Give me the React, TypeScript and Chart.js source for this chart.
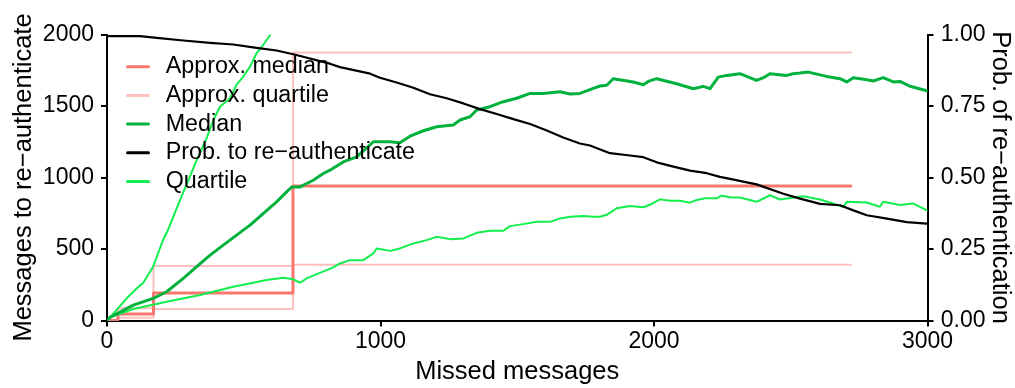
import React, { useEffect, useRef } from 'react';
import { Chart, registerables } from 'chart.js';

Chart.register(...registerables);

const FONT = '"Liberation Sans", Arial, Helvetica, sans-serif';

// Colours of the five series
const C_APPROX_MEDIAN = '#F8766D';
const C_APPROX_QUARTILE = '#FFC1BD';
const C_MEDIAN = '#00B23C';
const C_QUARTILE = '#12EE4C';
const C_PROB = '#000000';

// Piecewise-constant approximations: each value starts at its break and holds until the next one
const approxStepX = [0, 40, 170, 680, 2720];
const approxMedian = [0, 45, 192, 941, 941];
const approxQuartileLow = [0, 20, 80, 390, 390];
const approxQuartileHigh = [0, 85, 381, 1875, 1875];

// Empirical median of messages needed to re-authenticate
const medianX = [0, 11, 96, 169, 218, 279, 328, 377, 425, 474, 498, 523, 572, 620, 657, 675, 706, 754, 791, 815, 864, 913, 974, 1035, 1071, 1108, 1157, 1205, 1266, 1291, 1327, 1352, 1400, 1449, 1498, 1547, 1595, 1656, 1693, 1729, 1778, 1803, 1827, 1851, 1924, 1961, 1979, 2010, 2083, 2144, 2180, 2205, 2235, 2266, 2314, 2375, 2400, 2424, 2485, 2509, 2534, 2564, 2631, 2680, 2705, 2729, 2778, 2802, 2838, 2875, 2899, 2936, 2991, 3000];
const medianY = [0, 22, 108, 155, 201, 295, 376, 457, 527, 597, 632, 667, 749, 830, 899, 934, 934, 981, 1028, 1051, 1109, 1144, 1250, 1250, 1243, 1289, 1327, 1355, 1367, 1402, 1425, 1472, 1495, 1530, 1554, 1588, 1588, 1600, 1584, 1588, 1623, 1640, 1645, 1691, 1668, 1649, 1672, 1691, 1656, 1621, 1637, 1621, 1702, 1714, 1726, 1679, 1698, 1726, 1714, 1726, 1730, 1737, 1707, 1691, 1668, 1698, 1684, 1675, 1698, 1668, 1672, 1638, 1610, 1605];

// Empirical lower quartile
const lowerQuartileX = [0, 11, 96, 218, 340, 462, 584, 645, 681, 706, 730, 827, 852, 888, 937, 974, 986, 1035, 1071, 1120, 1169, 1205, 1254, 1303, 1352, 1400, 1449, 1473, 1522, 1571, 1620, 1656, 1693, 1742, 1778, 1803, 1827, 1864, 1912, 1961, 1991, 2022, 2059, 2095, 2132, 2156, 2187, 2229, 2248, 2278, 2314, 2375, 2424, 2461, 2546, 2607, 2692, 2705, 2778, 2826, 2838, 2899, 2948, 2997, 3000];
const lowerQuartileY = [0, 22, 80, 131, 178, 236, 283, 299, 288, 264, 295, 372, 399, 422, 422, 469, 504, 487, 504, 539, 562, 585, 569, 574, 613, 627, 627, 660, 674, 690, 690, 714, 725, 730, 725, 725, 739, 785, 801, 792, 815, 847, 838, 838, 824, 843, 855, 855, 873, 862, 860, 830, 876, 846, 869, 846, 795, 830, 825, 795, 830, 807, 818, 772, 770];

// Empirical upper quartile
const upperQuartileX = [0, 11, 72, 110, 132, 168, 205, 223, 267, 328, 364, 389, 413, 450, 474, 498, 523, 547, 572, 596, 606];
const upperQuartileY = [0, 22, 155, 227, 262, 374, 563, 633, 841, 1122, 1274, 1402, 1495, 1554, 1650, 1705, 1775, 1869, 1930, 1995, 2030];

// Probability to re-authenticate (right axis)
const probX = [0, 121, 182, 279, 377, 462, 547, 620, 685, 815, 852, 962, 998, 1059, 1120, 1181, 1242, 1303, 1364, 1425, 1486, 1547, 1608, 1668, 1729, 1766, 1839, 1912, 1961, 2010, 2071, 2132, 2193, 2241, 2278, 2375, 2473, 2534, 2607, 2680, 2729, 2778, 2852, 2924, 2997, 3000];
const probY = [0.994, 0.994, 0.988, 0.979, 0.971, 0.965, 0.953, 0.944, 0.930, 0.898, 0.886, 0.863, 0.849, 0.832, 0.814, 0.791, 0.777, 0.759, 0.739, 0.722, 0.704, 0.687, 0.664, 0.640, 0.619, 0.612, 0.585, 0.577, 0.571, 0.553, 0.538, 0.524, 0.515, 0.502, 0.495, 0.476, 0.443, 0.426, 0.408, 0.403, 0.385, 0.368, 0.356, 0.344, 0.339, 0.339];

const legendEntries = [
  { label: 'Approx. median', color: C_APPROX_MEDIAN },
  { label: 'Approx. quartile', color: C_APPROX_QUARTILE },
  { label: 'Median', color: C_MEDIAN },
  { label: 'Prob. to re\u2212authenticate', color: C_PROB },
  { label: 'Quartile', color: C_QUARTILE },
];

const pts = (xs: number[], ys: number[]) => xs.map((x, i) => ({ x, y: ys[i] }));

const lineStyle = (color: string, width: number) => ({
  borderColor: color,
  backgroundColor: color,
  borderWidth: width,
  pointRadius: 0,
  pointHoverRadius: 0,
  tension: 0,
  fill: false,
  clip: 0,
  borderCapStyle: 'round' as const,
  borderJoinStyle: 'round' as const,
});

// Legend drawn as short line samples inside the plot, without a frame
const lineLegend = {
  id: 'lineLegend',
  afterDraw(chart: any) {
    const { ctx, chartArea } = chart;
    ctx.save();
    ctx.font = `23.3px ${FONT}`;
    ctx.textBaseline = 'middle';
    ctx.textAlign = 'left';
    legendEntries.forEach((e, i) => {
      const y = chartArea.top + 32.2 + i * 28.7;
      ctx.strokeStyle = e.color;
      ctx.lineWidth = 3;
      ctx.lineCap = 'round';
      ctx.beginPath();
      ctx.moveTo(chartArea.left + 20.5, y);
      ctx.lineTo(chartArea.left + 41.5, y);
      ctx.stroke();
      ctx.fillStyle = '#000';
      ctx.fillText(e.label, chartArea.left + 58.7, y);
    });
    ctx.restore();
  },
};

const axisCommon = {
  grid: { drawOnChartArea: false, drawTicks: true, tickLength: 6, color: '#000', lineWidth: 2 },
  border: { display: true, color: '#000', width: 2 },
};

export default function App() {
  const canvasRef = useRef<HTMLCanvasElement | null>(null);

  useEffect(() => {
    if (!canvasRef.current) return;
    const chart = new Chart(canvasRef.current, {
      type: 'line',
      data: {
        datasets: [
          { label: 'Prob. to re\u2212authenticate', data: pts(probX, probY), yAxisID: 'y2', ...lineStyle(C_PROB, 2.2) },
          { label: 'Median', data: pts(medianX, medianY), yAxisID: 'y', ...lineStyle(C_MEDIAN, 3) },
          { label: 'Quartile', data: pts(upperQuartileX, upperQuartileY), yAxisID: 'y', ...lineStyle(C_QUARTILE, 2) },
          { label: 'Quartile', data: pts(lowerQuartileX, lowerQuartileY), yAxisID: 'y', ...lineStyle(C_QUARTILE, 2) },
          { label: 'Approx. median', data: pts(approxStepX, approxMedian), yAxisID: 'y', stepped: 'before', ...lineStyle(C_APPROX_MEDIAN, 3) },
          { label: 'Approx. quartile', data: pts(approxStepX, approxQuartileHigh), yAxisID: 'y', stepped: 'before', ...lineStyle(C_APPROX_QUARTILE, 2) },
          { label: 'Approx. quartile', data: pts(approxStepX, approxQuartileLow), yAxisID: 'y', stepped: 'before', ...lineStyle(C_APPROX_QUARTILE, 2) },
        ] as any,
      },
      options: {
        animation: false,
        responsive: false,
        maintainAspectRatio: false,
        parsing: false,
        normalized: true,
        events: [],
        layout: { padding: { top: 26.5, left: 0, right: 0, bottom: 0 } },
        plugins: { legend: { display: false }, tooltip: { enabled: false } },
        scales: {
          x: {
            type: 'linear',
            position: 'bottom',
            min: 0,
            max: 3000,
            ...axisCommon,
            ticks: {
              stepSize: 1000,
              color: '#000',
              padding: 1.5,
              maxRotation: 0,
              font: { family: FONT, size: 23 },
              callback: (v: any) => String(v),
            },
            title: {
              display: true,
              text: 'Missed messages',
              color: '#000',
              font: { family: FONT, size: 25.5, lineHeight: 1.2 },
              padding: { top: 0, bottom: 1.1 },
            },
            afterFit: (s: any) => { s.height = 67.5; },
          },
          y: {
            type: 'linear',
            position: 'left',
            min: 0,
            max: 2000,
            ...axisCommon,
            ticks: {
              stepSize: 500,
              color: '#000',
              padding: 7,
              font: { family: FONT, size: 23 },
              callback: (v: any) => String(v),
            },
            title: {
              display: true,
              text: 'Messages to re\u2212authenticate',
              color: '#000',
              font: { family: FONT, size: 25.5, lineHeight: 1.2 },
              padding: { top: 0.3, bottom: 0 },
            },
            afterFit: (s: any) => { s.width = 99; },
          },
          y2: {
            type: 'linear',
            position: 'right',
            min: 0,
            max: 1,
            ...axisCommon,
            ticks: {
              stepSize: 0.25,
              color: '#000',
              padding: 7.2,
              font: { family: FONT, size: 23 },
              callback: (v: any) => Number(v).toFixed(2),
            },
            title: {
              display: true,
              text: 'Prob. of re\u2212authentication',
              color: '#000',
              font: { family: FONT, size: 25.5, lineHeight: 1.2 },
              padding: { top: 0, bottom: 0 },
            },
            afterFit: (s: any) => { s.width = 87.5; },
          },
        },
      } as any,
      plugins: [lineLegend],
    });
    return () => chart.destroy();
  }, []);

  return (
    <div style={{ position: 'absolute', left: 8, top: 8, width: 1007, height: 380 }}>
      <canvas ref={canvasRef} width={1007} height={380} style={{ display: 'block', width: 1007, height: 380 }} />
    </div>
  );
}
